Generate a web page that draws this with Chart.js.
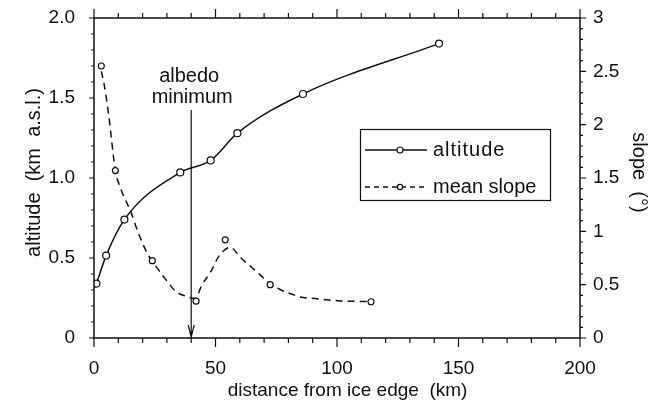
<!DOCTYPE html>
<html>
<head>
<meta charset="utf-8">
<script src="https://cdn.jsdelivr.net/npm/chart.js@4"></script>
<style>
  html, body { margin: 0; padding: 0; background: #fff; }
  #wrap { width: 654px; height: 403px; }
</style>
</head>
<body>
<div id="wrap"><canvas id="c" width="654" height="403"></canvas></div>
<script>
// ---- data ----
const altitudeX = [1, 5, 12.5, 35.5, 48, 59, 86, 142];
const altitudeY = [0.34, 0.515, 0.74, 1.035, 1.11, 1.28, 1.525, 1.84];

const slopeX = [3, 8.8, 24, 42, 54, 72.5, 114];
const slopeY = [2.55, 1.57, 0.725, 0.345, 0.92, 0.5, 0.34];

// smoothed mean-slope curve (dashed)
const slopeCurveX = [3, 4, 6, 8.8, 11, 15, 18.5, 22, 24, 29.5, 33.5, 38, 41.5, 44.5, 48, 51.5, 56, 60.5, 67, 72.5, 77, 81.5, 86, 91, 100, 114];
const slopeCurveY = [2.50, 2.40, 2.10, 1.57, 1.40, 1.19, 0.97, 0.79, 0.72, 0.55, 0.44, 0.39, 0.37, 0.50, 0.62, 0.77, 0.85, 0.75, 0.62, 0.51, 0.45, 0.41, 0.38, 0.37, 0.35, 0.34];

const xTickLabels = {0: '0', 50: '50', 100: '100', 150: '150', 200: '200'};
const leftTickLabels = {0: '0', 0.5: '0.5', 1: '1.0', 1.5: '1.5', 2: '2.0'};
const rightTickLabels = {0: '0', 0.5: '0.5', 1: '1', 1.5: '1.5', 2: '2', 2.5: '2.5', 3: '3'};

const seriesNames = ['altitude', 'mean slope'];
const albedoX = 40;          // km, albedo minimum
const albedoLabel = ['albedo', 'minimum'];

// ---- helpers ----
const pts = (xs, ys) => xs.map((x, i) => ({x: x, y: ys[i]}));
const FONT = "'Liberation Sans', Arial, Helvetica, sans-serif";
const INK = '#111';

const framePlugin = {
  id: 'frame',
  afterDraw(chart) {
    const ctx = chart.ctx;
    const a = chart.chartArea;
    const xs = chart.scales.x, yl = chart.scales.y, yr = chart.scales.y1;
    ctx.save();
    ctx.strokeStyle = INK;
    ctx.lineWidth = 1.5;
    ctx.beginPath();
    ctx.rect(a.left, a.top, a.right - a.left, a.bottom - a.top);
    ctx.stroke();
    ctx.lineWidth = 1.2;
    ctx.beginPath();
    // x ticks bottom & top
    for (let i = 0; i <= 20; i++) {
      const v = i * 10;
      const px = xs.getPixelForValue(v);
      const L = (v % 50 === 0) ? 9 : 5;
      ctx.moveTo(px, a.bottom); ctx.lineTo(px, a.bottom + L);
      ctx.moveTo(px, a.top); ctx.lineTo(px, a.top - L);
    }
    // left ticks
    for (let i = 0; i <= 20; i++) {
      const v = i / 10;
      const py = yl.getPixelForValue(v);
      const L = (i % 5 === 0) ? 5 : 3;
      ctx.moveTo(a.left, py); ctx.lineTo(a.left - L, py);
    }
    // right ticks
    for (let i = 0; i <= 30; i++) {
      const v = i / 10;
      const py = yr.getPixelForValue(v);
      const L = (i % 5 === 0) ? 6 : 3;
      ctx.moveTo(a.right, py); ctx.lineTo(a.right + L, py);
    }
    ctx.stroke();

    // albedo minimum arrow
    const ax = xs.getPixelForValue(albedoX);
    ctx.lineWidth = 1.2;
    ctx.beginPath();
    ctx.moveTo(ax, yl.getPixelForValue(1.425));
    ctx.lineTo(ax, a.bottom);
    ctx.moveTo(ax - 3, a.bottom - 13);
    ctx.lineTo(ax, a.bottom - 1);
    ctx.lineTo(ax + 3, a.bottom - 13);
    ctx.stroke();
    ctx.fillStyle = INK;
    ctx.font = '20px ' + FONT;
    ctx.textAlign = 'center';
    ctx.textBaseline = 'middle';
    ctx.fillText(albedoLabel[0], ax - 2, yl.getPixelForValue(1.637));
    ctx.fillText(albedoLabel[1], ax + 1, yl.getPixelForValue(1.505));

    // legend box
    const bx = 360.5, by = 129.5, bw = 190, bh = 71;
    ctx.lineWidth = 1.2;
    ctx.strokeRect(bx, by, bw, bh);
    const rows = [150, 187];
    // row 1: solid with circle
    ctx.lineWidth = 1.5;
    ctx.beginPath();
    ctx.moveTo(365, rows[0]); ctx.lineTo(427, rows[0]);
    ctx.stroke();
    ctx.beginPath();
    ctx.arc(400, rows[0], 3, 0, Math.PI * 2);
    ctx.fillStyle = '#fff'; ctx.fill();
    ctx.lineWidth = 1.2; ctx.stroke();
    // row 2: dashed with small marker
    ctx.setLineDash([5, 4]);
    ctx.lineWidth = 1.5;
    ctx.beginPath();
    ctx.moveTo(365, rows[1]); ctx.lineTo(427, rows[1]);
    ctx.stroke();
    ctx.setLineDash([]);
    ctx.beginPath();
    ctx.arc(400, rows[1], 2.6, 0, Math.PI * 2);
    ctx.fillStyle = '#fff'; ctx.fill();
    ctx.lineWidth = 1.2; ctx.stroke();
    ctx.fillStyle = INK;
    ctx.textAlign = 'left';
    ctx.font = '20px ' + FONT;
    ctx.letterSpacing = '1px';
    ctx.fillText(seriesNames[0], 433, rows[0]);
    ctx.letterSpacing = '0px';
    ctx.fillText(seriesNames[1], 433, rows[1]);
    ctx.restore();
  }
};

const tickFont = {family: FONT, size: 19};
const titleFont = {family: FONT, size: 20};

new Chart(document.getElementById('c'), {
  type: 'line',
  data: {
    datasets: [
      {
        label: seriesNames[0],
        data: pts(altitudeX, altitudeY),
        yAxisID: 'y',
        borderColor: INK,
        borderWidth: 1.5,
        cubicInterpolationMode: 'monotone',
        pointStyle: 'circle',
        pointRadius: 3.5,
        pointBackgroundColor: '#fff',
        pointBorderColor: INK,
        pointBorderWidth: 1.2,
        order: 1
      },
      {
        label: seriesNames[1] + ' markers',
        data: pts(slopeX, slopeY),
        yAxisID: 'y1',
        showLine: false,
        pointStyle: 'circle',
        pointRadius: 3,
        pointBackgroundColor: '#fff',
        pointBorderColor: INK,
        pointBorderWidth: 1.2,
        order: 0
      },
      {
        label: seriesNames[1],
        data: pts(slopeCurveX, slopeCurveY),
        yAxisID: 'y1',
        borderColor: INK,
        borderWidth: 1.5,
        borderDash: [7, 5],
        cubicInterpolationMode: 'monotone',
        pointRadius: 0,
        order: 2
      }
    ]
  },
  options: {
    responsive: false,
    animation: false,
    events: [],
    layout: {padding: {top: 18, left: 0, right: 0, bottom: 0}},
    plugins: {legend: {display: false}, tooltip: {enabled: false}},
    scales: {
      x: {
        type: 'linear', min: 0, max: 200,
        grid: {display: false, drawTicks: false, tickLength: 0},
        border: {display: false},
        ticks: {
          stepSize: 50, color: INK, font: tickFont, padding: 19, maxRotation: 0,
          callback: v => xTickLabels[v] !== undefined ? xTickLabels[v] : ''
        },
        title: {display: true, text: '    distance from ice edge  (km)', color: INK, font: {family: FONT, size: 19}, padding: {top: 0, bottom: 1}},
        afterFit: s => { s.height = 65; s.paddingLeft = 0; s.paddingRight = 0; }
      },
      y: {
        type: 'linear', position: 'left', min: 0, max: 2,
        grid: {display: false, drawTicks: false, tickLength: 0},
        border: {display: false},
        ticks: {
          stepSize: 0.5, color: INK, font: tickFont, padding: 19,
          callback: v => leftTickLabels[v] !== undefined ? leftTickLabels[v] : ''
        },
        title: {display: true, text: '  altitude  (km  a.s.l.)', color: INK, font: titleFont, padding: 22},
        afterFit: s => { s.width = 94; s.paddingTop = 0; s.paddingBottom = 0; }
      },
      y1: {
        type: 'linear', position: 'right', min: 0, max: 3,
        grid: {display: false, drawTicks: false, tickLength: 0},
        border: {display: false},
        ticks: {
          stepSize: 0.5, color: INK, font: tickFont, padding: 13,
          callback: v => rightTickLabels[v] !== undefined ? rightTickLabels[v] : ''
        },
        title: {display: true, text: 'slope  (°)  ', color: INK, font: titleFont, padding: 3},
        afterFit: s => { s.width = 74; s.paddingTop = 0; s.paddingBottom = 0; }
      }
    }
  },
  plugins: [framePlugin]
});
</script>
</body>
</html>
